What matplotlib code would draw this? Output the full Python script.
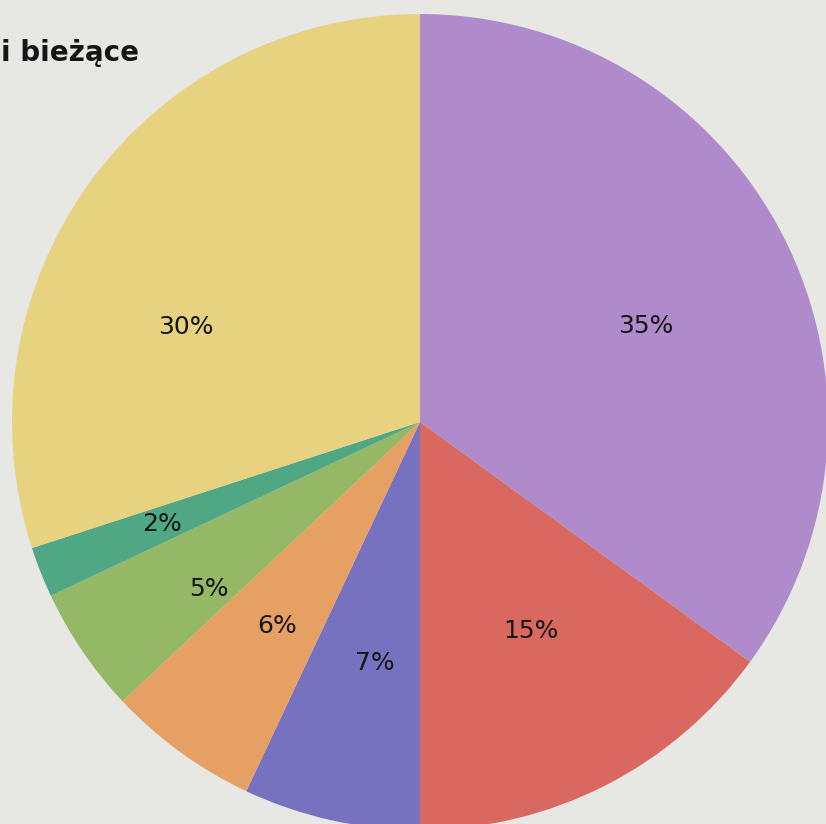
import numpy as np
import matplotlib
matplotlib.use("Agg")
import matplotlib.pyplot as plt

# shares, clockwise from 12 o'clock
shares = [35, 15, 7, 6, 5, 2, 30]
labels = ["35%", "15%", "7%", "6%", "5%", "2%", "30%"]
colors = ["#B08BCB", "#D96960", "#7672C0", "#E7A064", "#94B865", "#4FA783", "#E6D27F"]
# per-label nudges (radius, degrees) to follow the printed layout
label_r = [0.60, 0.58, 0.60, 0.61, 0.66, 0.68, 0.62]
label_shift = [-4, 1, 2, 1, 4, 0, 14]

title = "i bieżące"

W, H = 826, 824
R_PX = 408.0
CX, CY = 420, 422

fig = plt.figure(figsize=(W / 100, H / 100), dpi=100)
fig.patch.set_facecolor("#E7E7E4")
ax = fig.add_axes([0, 0, 1, 1])
ax.set_facecolor("#E7E7E4")

wedges, _ = ax.pie(shares, colors=colors, startangle=90, counterclock=False,
                   radius=1.0, center=(0, 0), frame=True,
                   wedgeprops=dict(linewidth=0))
ax.set_xlim(-CX / R_PX, (W - CX) / R_PX)
ax.set_ylim(-(H - CY) / R_PX, CY / R_PX)
ax.set_aspect("auto")
ax.axis("off")

for w, lab, r, sh in zip(wedges, labels, label_r, label_shift):
    mid = np.deg2rad((w.theta1 + w.theta2) / 2 + sh)
    ax.text(r * np.cos(mid), r * np.sin(mid), lab, ha="center", va="center",
            fontsize=18, color="#161616", family="DejaVu Sans")

fig.text(0.001, 1 - 53 / H, title, ha="left", va="center", fontsize=20,
         fontweight="bold", color="#161616", family="DejaVu Sans")

fig.savefig("out.png", dpi=100, facecolor=fig.get_facecolor())
